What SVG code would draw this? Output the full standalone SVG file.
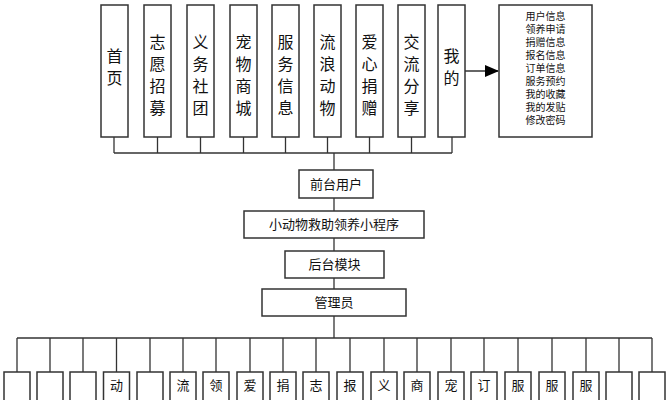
<svg xmlns="http://www.w3.org/2000/svg" width="666" height="400" viewBox="0 0 666 400">
<style>
rect{fill:#fff;stroke:#333;stroke-width:1.5}
text{font-family:"Noto Sans CJK SC",sans-serif;fill:#111}
.v{font-size:16px;text-anchor:middle}
.s{font-size:13px;text-anchor:middle}
.r{font-size:10px;text-anchor:middle}
line,path{stroke:#333;stroke-width:1.3;fill:none}
path.head{fill:#000;stroke:none}
</style>
<defs><marker id="a" markerWidth="14" markerHeight="12" refX="13" refY="6" orient="auto" markerUnits="userSpaceOnUse"><path class="head" d="M0,0 L14,6 L0,12z"/></marker></defs>
<g id="connectors">
<line x1="114" y1="153" x2="452" y2="153"/>
<line x1="114" y1="137" x2="114" y2="153"/><line x1="157.5" y1="137" x2="157.5" y2="153"/><line x1="200.5" y1="137" x2="200.5" y2="153"/><line x1="243.5" y1="137" x2="243.5" y2="153"/><line x1="285.5" y1="137" x2="285.5" y2="153"/><line x1="327.5" y1="137" x2="327.5" y2="153"/><line x1="369.5" y1="137" x2="369.5" y2="153"/><line x1="411.5" y1="137" x2="411.5" y2="153"/><line x1="452" y1="137" x2="452" y2="153"/>
<line x1="334" y1="153" x2="334" y2="338"/>
<line x1="465" y1="71" x2="498" y2="71" marker-end="url(#a)"/>
<line x1="17" y1="338" x2="652" y2="338"/>
<path d="M17,338V372M50,338V372M83,338V372M116.5,338V372M150,338V372M183,338V372M216,338V372M250,338V372M283,338V372M316,338V372M350,338V372M384,338V372M417,338V372M451,338V372M484,338V372M518,338V372M552,338V372M586,338V372M619,338V372M652,338V372"/>
</g>
<g id="top">
<g id="n1"><rect x="101" y="5" width="27" height="132"/><text class="v" x="114.5" y="62">首</text><text class="v" x="114.5" y="84">页</text></g>
<g id="n2"><rect x="144" y="5" width="27" height="132"/><text class="v" x="157.5" y="48">志</text><text class="v" x="157.5" y="70">愿</text><text class="v" x="157.5" y="92">招</text><text class="v" x="157.5" y="114">募</text></g>
<g id="n3"><rect x="187" y="5" width="27" height="132"/><text class="v" x="200.5" y="48">义</text><text class="v" x="200.5" y="70">务</text><text class="v" x="200.5" y="92">社</text><text class="v" x="200.5" y="114">团</text></g>
<g id="n4"><rect x="230" y="5" width="27" height="132"/><text class="v" x="243.5" y="48">宠</text><text class="v" x="243.5" y="70">物</text><text class="v" x="243.5" y="92">商</text><text class="v" x="243.5" y="114">城</text></g>
<g id="n5"><rect x="272" y="5" width="27" height="132"/><text class="v" x="285.5" y="48">服</text><text class="v" x="285.5" y="70">务</text><text class="v" x="285.5" y="92">信</text><text class="v" x="285.5" y="114">息</text></g>
<g id="n6"><rect x="314" y="5" width="27" height="132"/><text class="v" x="327.5" y="48">流</text><text class="v" x="327.5" y="70">浪</text><text class="v" x="327.5" y="92">动</text><text class="v" x="327.5" y="114">物</text></g>
<g id="n7"><rect x="356" y="5" width="27" height="132"/><text class="v" x="369.5" y="48">爱</text><text class="v" x="369.5" y="70">心</text><text class="v" x="369.5" y="92">捐</text><text class="v" x="369.5" y="114">赠</text></g>
<g id="n8"><rect x="398" y="5" width="27" height="132"/><text class="v" x="411.5" y="48">交</text><text class="v" x="411.5" y="70">流</text><text class="v" x="411.5" y="92">分</text><text class="v" x="411.5" y="114">享</text></g>
<g id="n9"><rect x="438" y="5" width="27" height="132"/><text class="v" x="451.5" y="62">我</text><text class="v" x="451.5" y="84">的</text></g>
<g id="n10"><rect x="499" y="5" width="93" height="132"/>
<text class="r" x="545.5" y="20"><tspan x="545.5">用户信息</tspan><tspan x="545.5" dy="13">领养申请</tspan><tspan x="545.5" dy="13">捐赠信息</tspan><tspan x="545.5" dy="13">报名信息</tspan><tspan x="545.5" dy="13">订单信息</tspan><tspan x="545.5" dy="13">服务预约</tspan><tspan x="545.5" dy="13">我的收藏</tspan><tspan x="545.5" dy="13">我的发贴</tspan><tspan x="545.5" dy="13">修改密码</tspan></text></g>
</g>
<g id="front"><rect x="299" y="170" width="74" height="28"/><text class="s" x="336" y="189">前台用户</text></g>
<g id="app"><rect x="244" y="211" width="180" height="27"/><text class="s" x="334" y="229">小动物救助领养小程序</text></g>
<g id="back"><rect x="285" y="251" width="99" height="27"/><text class="s" x="334.5" y="269">后台模块</text></g>
<g id="admin"><rect x="262" y="289" width="144" height="27"/><text class="s" x="334" y="307">管理员</text></g>
<g id="bottom">
<rect x="4" y="372" width="26" height="40"/><rect x="37" y="372" width="26" height="40"/><rect x="70" y="372" width="26" height="40"/>
<rect x="103.5" y="372" width="26" height="40"/><text class="s" x="116.5" y="390">动</text>
<rect x="137" y="372" width="26" height="40"/>
<rect x="170" y="372" width="26" height="40"/><text class="s" x="183" y="390">流</text>
<rect x="203" y="372" width="26" height="40"/><text class="s" x="216" y="390">领</text>
<rect x="237" y="372" width="26" height="40"/><text class="s" x="250" y="390">爱</text>
<rect x="270" y="372" width="26" height="40"/><text class="s" x="283" y="390">捐</text>
<rect x="303" y="372" width="26" height="40"/><text class="s" x="316" y="390">志</text>
<rect x="337" y="372" width="26" height="40"/><text class="s" x="350" y="390">报</text>
<rect x="371" y="372" width="26" height="40"/><text class="s" x="384" y="390">义</text>
<rect x="404" y="372" width="26" height="40"/><text class="s" x="417" y="390">商</text>
<rect x="438" y="372" width="26" height="40"/><text class="s" x="451" y="390">宠</text>
<rect x="471" y="372" width="26" height="40"/><text class="s" x="484" y="390">订</text>
<rect x="505" y="372" width="26" height="40"/><text class="s" x="518" y="390">服</text>
<rect x="539" y="372" width="26" height="40"/><text class="s" x="552" y="390">服</text>
<rect x="573" y="372" width="26" height="40"/><text class="s" x="586" y="390">服</text>
<rect x="606" y="372" width="26" height="40"/><rect x="639" y="372" width="26" height="40"/>
</g>
</svg>
